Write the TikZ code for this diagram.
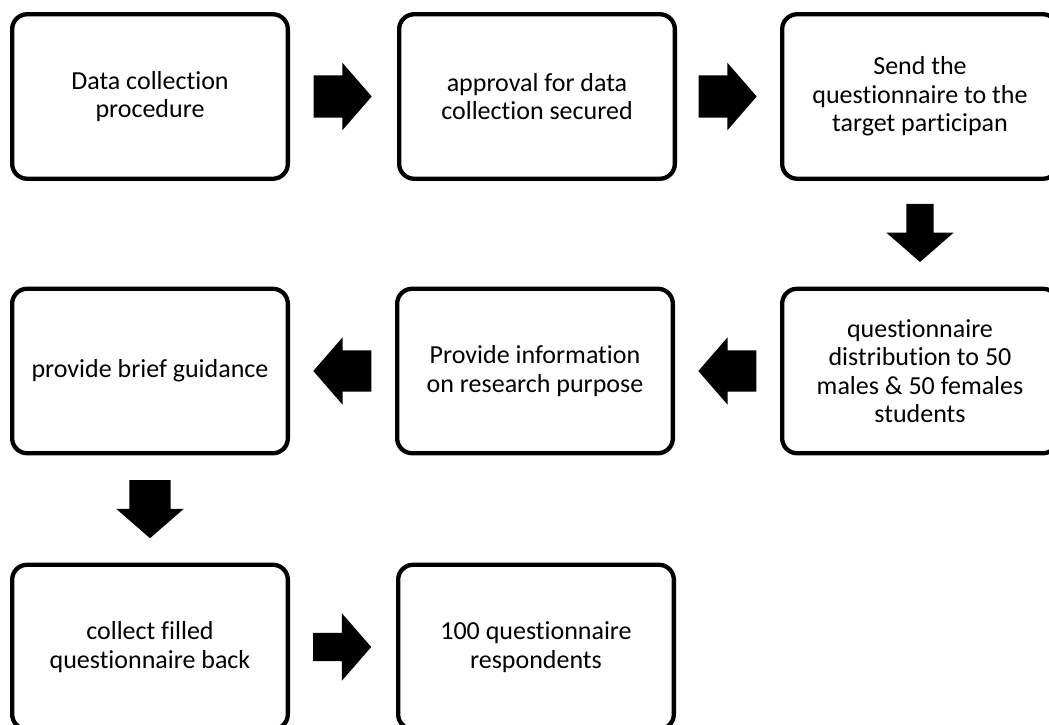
\documentclass[tikz,border=0pt]{standalone}
\usepackage{fontspec}
\setmainfont{Carlito}[RawFeature=-liga]
\usetikzlibrary{shapes.arrows,calc}
\begin{document}
\begin{tikzpicture}[x=1pt,y=-1pt,
  stepbox/.style={draw, line width=4.3pt, rounded corners=15pt,
    minimum width=275.7pt, minimum height=164.5pt, align=center,
    inner sep=0pt, font=\fontsize{26}{28.5}\selectfont},
  % #1 = half the shaft width; the head is 67pt across in every arrow
  blockarrow/.style={single arrow, fill=black, draw=none, anchor=tail,
    inner xsep=0pt, inner ysep=#1, minimum height=58pt,
    single arrow head extend={33.5pt-#1}, single arrow tip angle=98},
  blockarrow/.default=21pt,
  downarrow/.style={single arrow, fill=black, draw=none, anchor=tail,
    shape border rotate=270,
    inner xsep=#1, inner ysep=0pt, minimum height=58pt,
    single arrow head extend={33.5pt-#1}, single arrow tip angle=98},
]
% page frame
\useasboundingbox (0,0) rectangle (1049,725);
\fill[white] (0,0) rectangle (1049,725);
\clip (0,0) rectangle (1049,725);

% process steps
\node[stepbox] (b1) at (150,96.5) {Data collection\\procedure};
\node[stepbox] (b2) at (537,96.5) {approval for data\\collection secured};
\node[stepbox] (b3) at (920,96.5) {Send the\\questionnaire to the\\target participan};
\node[stepbox] (b4) at (920,371) {questionnaire\\distribution to 50\\males \& 50 females\\students};
\node[stepbox] (b5) at (535,371) {Provide information\\on research purpose};
\node[stepbox] (b6) at (150,371) {provide brief guidance};
\node[stepbox] (b7) at (150,647) {collect filled\\questionnaire back};
\node[stepbox] (b8) at (536,647) {100 questionnaire\\respondents};

% block arrows centred in the gaps between the steps
\node[blockarrow] (a1) at ($(b1.east)!0.5!(b2.west)+(-30,0)$) {};
\node[blockarrow] (a2) at ($(b2.east)!0.5!(b3.west)+(-30,0)$) {};
\node[downarrow=13.5pt] (a3) at ($(b3.south)!0.5!(b4.north)+(0,-30)$) {};
\node[blockarrow=20.5pt, shape border rotate=180] (a4) at ($(b4.west)!0.5!(b5.east)+(29,0)$) {};
\node[blockarrow=20.5pt, shape border rotate=180] (a5) at ($(b5.west)!0.5!(b6.east)+(29,0)$) {};
\node[downarrow=20.5pt] (a6) at ($(b6.south)!0.5!(b7.north)+(0,-29)$) {};
\node[blockarrow=14pt] (a7) at ($(b7.east)!0.5!(b8.west)+(-30,0)$) {};
\end{tikzpicture}
\end{document}
